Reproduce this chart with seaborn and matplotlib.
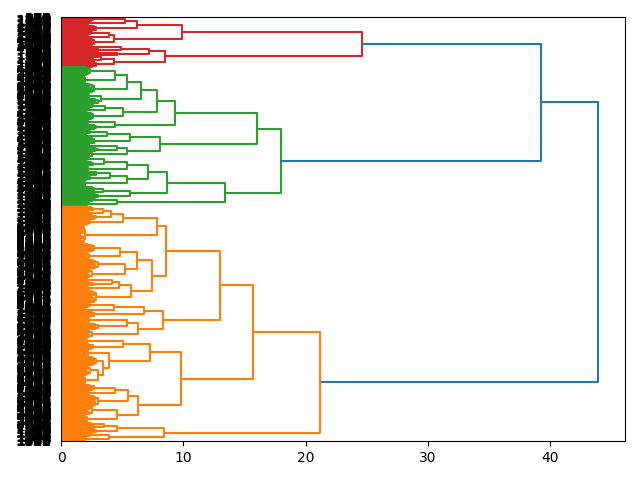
import numpy as np
import pandas as pd
import seaborn as sns
import matplotlib.pyplot as plt

# merge heights: [height, upper child, lower child]
# a plain int is a group of leaves that is merged below ~3
RED = [24.6,
       [9.9,
        [6.2, [5.2, 24, 24], 32],
        [4.3, [3.9, 24, 16], 45]],
       [8.5,
        [7.2, [4.9, 16, 14], [4.6, 16, 11]],
        [4.3, [3.3, 16, 16], 30]]]

GREEN = [18.0,
         [16.0,
          [9.3,
           [7.85,
            [6.5, [5.4, [4.4, 48, 48], 56], [3.3, 28, 30]],
            [5.1, [3.6, 24, 24], 42]],
           [4.4, 28, 28]],
          [8.1,
           [5.6, [3.8, 24, 20], 40],
           [5.4, [4.6, 20, 20], 34]]],
         [13.4,
          [8.7,
           [7.1, [5.4, [3.5, 24, 24], 32], [5.4, [4.0, 24, 24], 40]],
           [5.6, [3.4, 24, 16], 24]],
          [4.6, 24, 24]]]

ORANGE = [21.2,
          [15.7,
           [13.0,
            [8.6,
             [7.85, [5.1, [4.1, [3.4, 24, 24], 24], 32], 110],
             [7.4,
              [6.2, [4.8, 44, 44], [5.2, 52, 56]],
              [5.7, [4.7, [4.2, 20, 20], 24], 76]]],
            [8.3,
             [6.8, [4.3, 24, 24], 30],
             [6.3, [5.4, 36, 36], 50]]],
           [9.8,
            [7.3, [5.1, 32, 32], [3.9, 40, [3.4, 50, [3.0, 56, 56]]]],
            [6.3, [5.5, [4.4, 30, 30], 60], [4.6, 48, 48]]]],
          [8.4, [4.6, [3.5, 16, 16], 24], [3.9, 22, 24]]]

ROOT_H = 43.9
UPPER_H = 39.2

# tops of the small leaf groups and the steps inside them
BLOB_TOPS = [2.6, 2.2, 2.9, 2.4, 2.0, 2.7, 2.3, 3.0, 2.5, 2.1]
BLOB_STEPS = [1.0, 0.93, 0.86, 0.78, 0.68, 0.55, 0.4, 0.25]

COLORS = {"C0": "#1f77b4", "C1": "#ff7f0e", "C2": "#2ca02c", "C3": "#d62728"}


def split(leaves, top, depth):
    if len(leaves) == 1:
        return leaves[0]
    mid = (len(leaves) + 1) // 2
    h = top * BLOB_STEPS[min(depth, len(BLOB_STEPS) - 1)]
    return [h, split(leaves[:mid], top, depth + 1), split(leaves[mid:], top, depth + 1)]


blob_no = [0]


def expand(node):
    if isinstance(node, int):
        b = blob_no[0]
        blob_no[0] += 1
        leaves = [("leaf", b, j) for j in range(node)]
        return split(leaves, BLOB_TOPS[b % len(BLOB_TOPS)], 0)
    return [node[0], expand(node[1]), expand(node[2])]


tree = ["C0", ROOT_H,
        ["C0", UPPER_H, ("C3", expand(RED)), ("C2", expand(GREEN))],
        ("C1", expand(ORANGE))]


def count(node):
    if isinstance(node, tuple) and node[0] == "leaf":
        return 1
    if isinstance(node, tuple):
        return count(node[1])
    if isinstance(node[0], str):
        return count(node[2]) + count(node[3])
    return count(node[1]) + count(node[2])


n = count(tree)
rows = []
leaf_keys = []
pos = [0]
link_no = [0]


def walk(node, color):
    # returns (height, y) of the node, leaves laid out top to bottom
    if isinstance(node, tuple) and node[0] == "leaf":
        y = 10 * (n - 1 - pos[0]) + 5
        pos[0] += 1
        leaf_keys.append((node[2], node[1], y))
        return 0.0, y
    if isinstance(node, tuple):
        return walk(node[1], node[0])
    if isinstance(node[0], str):
        color = node[0]
        h, a, c = node[1], node[2], node[3]
    else:
        h, a, c = node
    ha, ya = walk(a, color)
    hc, yc = walk(c, color)
    k = link_no[0]
    link_no[0] += 1
    for x, y in [(ha, ya), (h, ya), (h, yc), (hc, yc)]:
        rows.append({"link": k, "h": x, "y": y, "color": color})
    return h, (ya + yc) / 2


walk(tree, "C0")
df = pd.DataFrame(rows)

# leaf labels: original sample indices, spread over the groups
labels = {}
for i, (j, b, y) in enumerate(sorted(leaf_keys)):
    labels[y] = str(i)
tick_y = sorted(labels)
tick_text = [labels[y] for y in tick_y]

fig, ax = plt.subplots(figsize=(6.4, 4.8), dpi=100)
sns.lineplot(data=df, x="h", y="y", units="link", hue="color", palette=COLORS,
             estimator=None, sort=False, linewidth=1.5, legend=False, ax=ax)
ax.set_xlim(0, ROOT_H * 1.05)
ax.set_ylim(0, 10 * n)
ax.set_yticks(tick_y)
ax.set_yticklabels(tick_text)
for line in ax.get_yticklines():
    line.set_visible(False)
ax.set_xlabel("")
ax.set_ylabel("")
fig.subplots_adjust(left=61 / 640, right=625 / 640, top=1 - 17 / 480, bottom=1 - 441 / 480)
plt.savefig("out.png", dpi=100)
